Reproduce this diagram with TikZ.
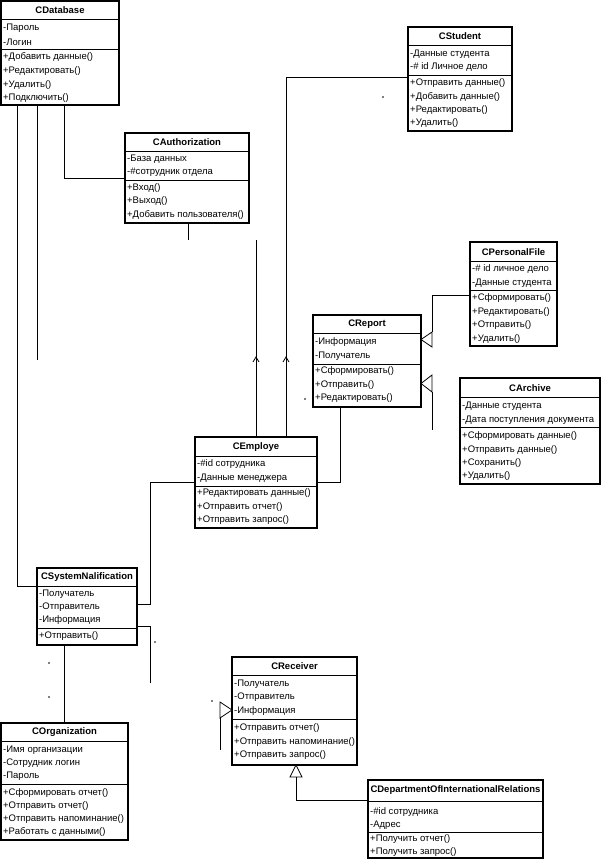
\documentclass[tikz,border=0pt]{standalone}
\usepackage{fontspec}
\setmainfont{Liberation Sans}
\begin{document}
\begin{tikzpicture}[x=1pt,y=-1pt,
  clsbox/.style={draw, line width=1.1pt, rectangle, inner sep=0pt, outer sep=0pt},
  clstitle/.style={font=\fontsize{9.5}{11}\selectfont\bfseries, inner sep=0pt},
  item/.style={font=\fontsize{9.5}{11}\selectfont, anchor=west, inner sep=0pt},
  sepline/.style={line width=0.9pt},
  conn/.style={line width=0.8pt},
  tri/.style={line width=0.8pt, fill=white},
  speck/.style={fill=black}]
\useasboundingbox[fill=white] (0,0) rectangle (615,861);
\newcommand\umlclass[8]{%
  \node[clsbox, minimum width={#4-#2}, minimum height={#5-#3}, anchor=north west] (#1) at (#2,#3) {};
  \node[clstitle] at ({(#2+#4)/2},#7) {#6};
  \foreach \s in {#8} {\draw[sepline] (#2,\s) -- (#4,\s);}
}
\newcommand\umlitems[2]{\foreach \yy/\txt in {#2} {\node[item] at (#1,\yy) {\txt};}}

% CDatabase
\umlclass{db}{1}{1}{119}{105}{CDatabase}{10}{19,49}
\umlitems{3}{28/-Пароль,42/-Логин,57/+Добавить данные(),71/+Редактировать(),85/+Удалить(),98/+Подключить()}
% CAuthorization
\umlclass{au}{125}{133}{249}{223}{CAuthorization}{142}{151,180}
\umlitems{127}{159/-База данных,172/-\#сотрудник отдела,188/+Вход(),201/+Выход(),215/+Добавить пользователя()}
% CStudent
\umlclass{st}{408}{27}{512}{131}{CStudent}{36}{45,75}
\umlitems{410}{54/-Данные студента,67/-\# id Личное дело,83/+Отправить данные(),97/+Добавить данные(),110/+Редактировать(),123/+Удалить()}
% CPersonalFile
\umlclass{pf}{470}{242}{557}{346}{CPersonalFile}{252}{261,290}
\umlitems{472}{269/-\# id личное дело,283/-Данные студента,298/+Сформировать(),312/+Редактировать(),325/+Отправить(),339/+Удалить()}
% CReport
\umlclass{rep}{313}{315}{421}{407}{CReport}{324}{333,364}
\umlitems{315}{342/-Информация,356/-Получатель,371/+Сформировать(),385/+Отправить(),398/+Редактировать()}
% CArchive
\umlclass{arc}{460}{378}{600}{484}{CArchive}{388}{397,427}
\umlitems{462}{406/-Данные студента,420/-Дата поступления документа,436/+Сформировать данные(),450/+Отправить данные(),463/+Сохранить(),476/+Удалить()}
% CEmploye
\umlclass{emp}{195}{437}{317}{528}{CEmploye}{447}{456,486}
\umlitems{197}{464/-\#id сотрудника,478/-Данные менеджера,493/+Редактировать данные(),507/+Отправить отчет(),520/+Отправить запрос()}
% CSystemNalification
\umlclass{sysn}{37}{568}{137}{645}{CSystemNalification}{577}{586,628}
\umlitems{39}{594/-Получатель,607/-Отправитель,620/-Информация,636/+Отправить()}
% CReceiver
\umlclass{rec}{232}{657}{357}{765}{CReceiver}{666}{675,719}
\umlitems{234}{684/-Получатель,697/-Отправитель,711/-Информация,728/+Отправить отчет(),742/+Отправить напоминание(),755/+Отправить запрос()}
% COrganization
\umlclass{org}{1}{723}{128}{840}{COrganization}{732}{741,784}
\umlitems{3}{750/-Имя организации,763/-Сотрудник логин,776/-Пароль,793/+Сформировать отчет(),806/+Отправить отчет(),819/+Отправить напоминание(),832/+Работать с данными()}
% CDepartmentOfInternationalRelations
\umlclass{dep}{368}{780}{543}{858}{CDepartmentOfInternationalRelations}{790}{801,832}
\umlitems{370}{812/-\#id сотрудника,825/-Адрес,839/+Получить отчет(),852/+Получить запрос()}

% free ends
\coordinate (e1) at (37,360);
\coordinate (e2) at (188,240);
\coordinate (e3) at (256,240);
\coordinate (e4) at (432,430);
\coordinate (e5) at (150,683);
\coordinate (e6) at (220,750);

% connectors
\draw[conn] (17,0 |- db.south) -- (17,586) -- (sysn.west |- 0,586);
\draw[conn] (37,0 |- db.south) -- (e1);
\draw[conn] (64,0 |- db.south) -- (64,178) -- (au.west |- 0,178);
\draw[conn] (188,0 |- au.south) -- (e2);
\draw[conn] (e3) -- (256,0 |- emp.north);
\draw[conn] (253,362) -- (256,357) -- (259,362);
\draw[conn] (st.west |- 0,77) -- (286,77) -- (286,0 |- emp.north);
\draw[conn] (283,362) -- (286,357) -- (289,362);
\draw[conn] (pf.west |- 0,295) -- (432,295) -- (432,332);
\draw[tri] (rep.east |- 0,339.5) -- (432,332) -- (432,347) -- cycle;
\draw[conn] (432,392) -- (e4);
\draw[tri] (rep.east |- 0,383.5) -- (432,375) -- (432,392) -- cycle;
\draw[conn] (340,0 |- rep.south) -- (340,482) -- (emp.east |- 0,482);
\draw[conn] (emp.west |- 0,482) -- (150,482) -- (150,604) -- (sysn.east |- 0,604);
\draw[conn] (sysn.east |- 0,626) -- (150,626) -- (e5);
\draw[conn] (64,0 |- sysn.south) -- (64,0 |- org.north);
\draw[tri] (rec.west |- 0,710) -- (220,702) -- (220,718) -- cycle;
\draw[conn] (220,718) -- (e6);
\draw[tri] (296,0 |- rec.south) -- (290,777) -- (302,777) -- cycle;
\draw[conn] (296,777) -- (296,800) -- (dep.west |- 0,800);

% small marks
\fill[speck] (383,97) circle (0.9);
\fill[speck] (305,399) circle (0.9);
\fill[speck] (155,642) circle (0.9);
\fill[speck] (49,663) circle (0.9);
\fill[speck] (49,697) circle (0.9);
\fill[speck] (212,701) circle (0.9);
\end{tikzpicture}
\end{document}
